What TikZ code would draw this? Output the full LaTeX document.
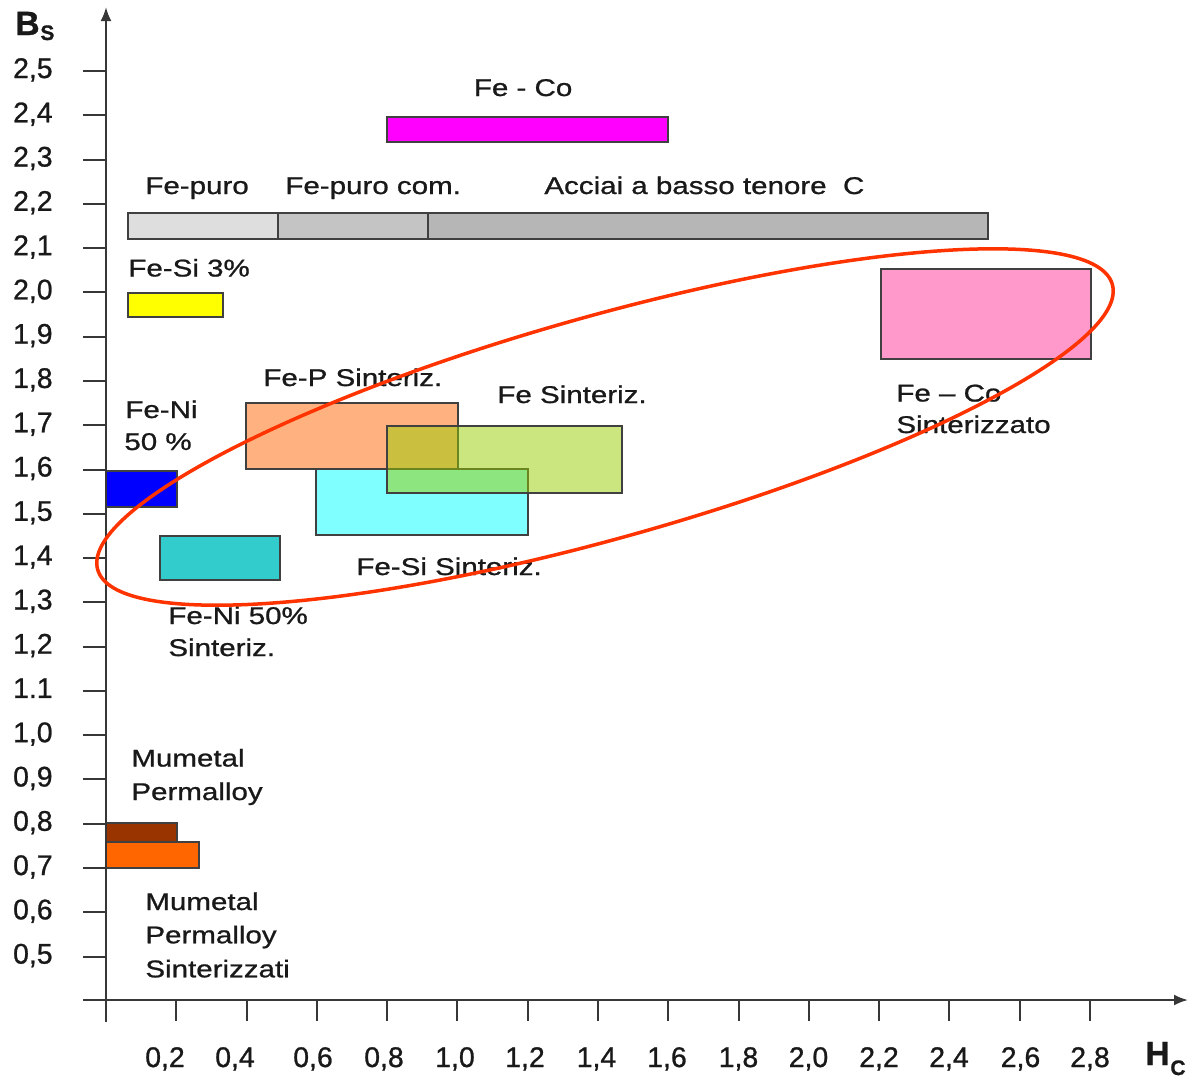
\documentclass[tikz,border=0pt]{standalone}
\usepackage{fontspec}
\setmainfont[FakeBold=0.9]{Liberation Sans}
\newfontfamily\lblfont[FakeStretch=1.22,FakeBold=0.9]{Liberation Sans}
\usetikzlibrary{arrows.meta}
\definecolor{grayA}{RGB}{222,222,222}
\definecolor{grayB}{RGB}{196,196,196}
\definecolor{grayC}{RGB}{182,182,182}
\definecolor{magentaC}{RGB}{255,0,255}
\definecolor{yellowC}{RGB}{255,255,0}
\definecolor{pinkC}{RGB}{255,153,204}
\definecolor{blueC}{RGB}{0,0,255}
\definecolor{tealC}{RGB}{51,204,204}
\definecolor{orangeC}{RGB}{255,102,0}
\definecolor{cyanC}{RGB}{0,255,255}
\definecolor{greenC}{RGB}{153,204,0}
\definecolor{brownC}{RGB}{153,51,0}
\definecolor{redC}{RGB}{255,51,0}
\definecolor{axC}{RGB}{55,55,55}
\definecolor{txC}{RGB}{25,25,25}
\begin{document}
\begin{tikzpicture}[x=0.5pt,y=-0.5pt,
  lbl/.style={font=\lblfont\fontsize{12.1pt}{14pt}\selectfont, anchor=base west, inner sep=0pt, text=txC},
  tk/.style={font=\fontsize{14.2pt}{16pt}\selectfont, inner sep=0pt, text=txC},
  bx/.style={draw=black!75, line width=0.7pt},
  ax/.style={draw=axC, line width=1.1pt},
  tickmark/.style={draw=axC, line width=1pt},
  arr/.style={-{Latex[length=7pt,width=5.5pt]}}]
\useasboundingbox (0,0) rectangle (1192,1077);
\fill[white] (0,0) rectangle (1192,1077);

% bars
\draw[bx, fill=grayA] (128,213) rectangle (278,239);
\draw[bx, fill=grayB] (278,213) rectangle (428,239);
\draw[bx, fill=grayC] (428,213) rectangle (988,239);
\draw[bx, fill=magentaC] (387,117) rectangle (668,142);
\draw[bx, fill=yellowC] (128,293) rectangle (223,317);
\draw[bx, fill=pinkC] (881,269) rectangle (1091,359);
\draw[bx, fill=blueC] (106,471) rectangle (177,507);
\draw[bx, fill=tealC] (160,536) rectangle (280,580);
\draw[bx, fill=orangeC, fill opacity=0.5] (246,403) rectangle (458,469);
\draw[bx, fill=cyanC, fill opacity=0.5] (316,469) rectangle (528,535);
\draw[bx, fill=greenC, fill opacity=0.5] (387,426) rectangle (622,493);
\draw[bx, fill=brownC] (106,823) rectangle (177,842);
\draw[bx, fill=orangeC] (106,842) rectangle (199,868);

% axes
\draw[ax, arr] (106,1022) -- (106,7);
\draw[ax, arr] (83,1000) -- (1188,1000);

% y ticks
\foreach \t [count=\i from 0] in {{2,5},{2,4},{2,3},{2,2},{2,1},{2,0},{1,9},{1,8},{1,7},{1,6},{1,5},{1,4},{1,3},{1,2},{1.1},{1,0},{0,9},{0,8},{0,7},{0,6},{0,5}} {
  \pgfmathsetmacro\yy{71+\i*44.28}
  \pgfmathsetmacro\yb{\yy+7}
  \draw[tickmark] (83,\yy) -- (106,\yy);
  \node[tk, anchor=base east] (yl\i) at (53,\yb) {\t};
}
% x ticks
\foreach \t/\lx [count=\i] in {{0,2}/165,{0,4}/235,{0,6}/313,{0,8}/384,{1,0}/455,{1,2}/525,{1,4}/596.5,{1,6}/667,{1,8}/738.5,{2,0}/808.5,{2,2}/879,{2,4}/949,{2,6}/1020.5,{2,8}/1090} {
  \pgfmathsetmacro\xx{106+\i*70.28}
  \draw[tickmark] (\xx,1000) -- (\xx,1021);
  \node[tk, anchor=base] (xl\i) at (\lx,1067) {\t};
}

% axis titles
\node[anchor=base west, inner sep=0pt, text=txC, font=\bfseries\fontsize{16.8pt}{18pt}\selectfont] (bs) at (15,35) {B};
\node[anchor=base west, inner sep=0pt, text=txC, font=\bfseries\fontsize{10.5pt}{12pt}\selectfont] (bss) at (40,40) {S};
\node[anchor=base west, inner sep=0pt, text=txC, font=\bfseries\fontsize{16.8pt}{18pt}\selectfont] (hc) at (1145,1065) {H};
\node[anchor=base west, inner sep=0pt, text=txC, font=\bfseries\fontsize{10.5pt}{12pt}\selectfont] (hcs) at (1170,1075) {C};

% labels
\node[lbl] (l1) at (473.5,96) {Fe - Co};
\node[lbl] (l2) at (145,194) {Fe-puro};
\node[lbl] (l3) at (285,194) {Fe-puro com.};
\node[lbl] (l4) at (544,194) {Acciai a basso tenore\ \ C};
\node[lbl] (l5) at (128,276.5) {Fe-Si 3\%};
\node[lbl] (l6) at (263,386) {Fe-P Sinteriz.};
\node[lbl] (l7) at (497,403) {Fe Sinteriz.};
\node[lbl] (l8a) at (125,418) {Fe-Ni};
\node[lbl] (l8b) at (124,450) {50 \%};
\node[lbl] (l9) at (356,575) {Fe-Si Sinteriz.};
\node[lbl] (l10a) at (168,624) {Fe-Ni 50\%};
\node[lbl] (l10b) at (168,656) {Sinteriz.};
\node[lbl] (l11a) at (896,401.5) {Fe – Co};
\node[lbl] (l11b) at (896,433) {Sinterizzato};
\node[lbl] (l12a) at (131,766.5) {Mumetal};
\node[lbl] (l12b) at (131,800) {Permalloy};
\node[lbl] (l13a) at (145,910) {Mumetal};
\node[lbl] (l13b) at (145,943.3) {Permalloy};
\node[lbl] (l13c) at (145,977.3) {Sinterizzati};

% ellipse
\draw[draw=redC, line width=1.75pt, shift={(605,427)}, rotate=15.7] (0,0) ellipse [x radius=527, y radius=111];
\end{tikzpicture}
\end{document}
